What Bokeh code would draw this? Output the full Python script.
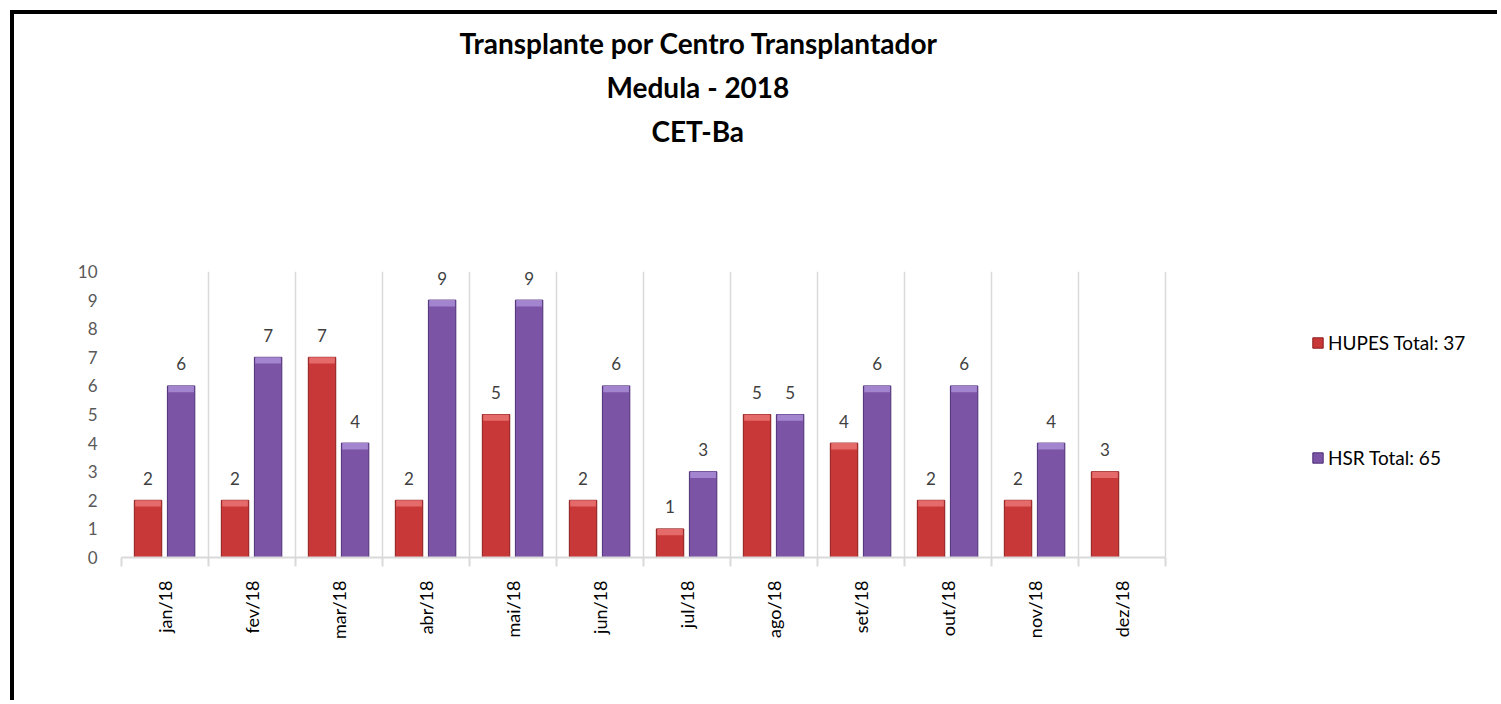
from bokeh.plotting import figure
from bokeh.models import (ColumnDataSource, Range1d, FixedTicker, Legend, LegendItem, Title)
from bokeh.core.properties import value
from bokeh.transform import dodge
from bokeh.embed import file_html
from bokeh.resources import INLINE
import math

months = ["jan/18", "fev/18", "mar/18", "abr/18", "mai/18", "jun/18",
          "jul/18", "ago/18", "set/18", "out/18", "nov/18", "dez/18"]
hupes = [2, 2, 7, 2, 5, 2, 1, 5, 4, 2, 2, 3]
hsr = [6, 7, 4, 9, 9, 6, 3, 5, 6, 6, 4, None]
y_ticks = list(range(0, 11))
title_lines = ["Transplante por Centro Transplantador", "Medula - 2018", "CET-Ba"]

FONT = "Lato"
RED, RED_EDGE, RED_TOP = "#C93838", "#8C1C1C", "#E56A6A"
PUR, PUR_EDGE, PUR_TOP = "#7B54A6", "#4D2E77", "#A384CF"

n = len(months)
centers = [i + 0.5 for i in range(n)]
hsr_top = [float("nan") if v is None else v for v in hsr]

src = ColumnDataSource(dict(
    x=centers, hupes=hupes, hsr=hsr_top,
    hupes_band=[v - 0.22 for v in hupes],
    hsr_band=[v - 0.22 if not math.isnan(v) else float("nan") for v in hsr_top],
    hupes_lbl=[str(v) for v in hupes],
    hsr_lbl=["" if v is None else str(v) for v in hsr],
))

# plot area (frame) runs to the right edge; the categories occupy x in [0, n]
CANVAS_W, LEFT = 1487, 107
CAT_PX = 87.0
x_end = (CANVAS_W - LEFT) / CAT_PX

p = figure(width=CANVAS_W, height=690, output_backend="svg", toolbar_location=None,
           x_range=Range1d(0, x_end), y_range=Range1d(0, 10),
           min_border_left=LEFT, min_border_top=257, min_border_right=0,
           min_border_bottom=147)
p.styles = {"border-top": "4px solid black", "border-left": "4px solid black",
            "margin-top": "10px", "margin-left": "10px"}
p.outline_line_color = None
p.background_fill_color = "white"
p.border_fill_color = "white"

W = 0.315
OFF_R, OFF_P = -0.195, 0.185

r1 = p.vbar(x=dodge("x", OFF_R), top="hupes", bottom=0, width=W, source=src,
            fill_color=RED, line_color=RED_EDGE, line_width=1)
p.vbar(x=dodge("x", OFF_R), top="hupes", bottom="hupes_band", width=W - 0.02, source=src,
       fill_color=RED_TOP, line_color=None)
r2 = p.vbar(x=dodge("x", OFF_P), top="hsr", bottom=0, width=W, source=src,
            fill_color=PUR, line_color=PUR_EDGE, line_width=1)
p.vbar(x=dodge("x", OFF_P), top="hsr", bottom="hsr_band", width=W - 0.02, source=src,
       fill_color=PUR_TOP, line_color=None)

p.text(x=dodge("x", OFF_R), y="hupes", text="hupes_lbl", source=src,
       text_font=value(FONT), text_font_size="17px", text_color="#404040",
       text_align="center", text_baseline="middle", y_offset=-22)
p.text(x=dodge("x", OFF_P), y="hsr", text="hsr_lbl", source=src,
       text_font=value(FONT), text_font_size="17px", text_color="#404040",
       text_align="center", text_baseline="middle", y_offset=-22)

# axes
xa = p.xaxis[0]
xa.bounds = (0, n)
xa.ticker = FixedTicker(ticks=centers, minor_ticks=list(range(n + 1)))
xa.major_label_overrides = {c: m for c, m in zip(centers, months)}
xa.major_label_orientation = math.pi / 2
xa.major_tick_line_color = None
xa.minor_tick_in = 0
xa.minor_tick_out = 9
xa.minor_tick_line_color = "#D9D9D9"
xa.minor_tick_line_width = 2
xa.axis_line_color = "#D9D9D9"
xa.axis_line_width = 2
xa.major_label_standoff = 14
xa.major_label_text_font = FONT
xa.major_label_text_font_size = "18px"
xa.major_label_text_color = "#000000"

ya = p.yaxis[0]
ya.ticker = FixedTicker(ticks=y_ticks)
ya.axis_line_color = None
ya.major_tick_line_color = None
ya.minor_tick_line_color = None
ya.major_label_standoff = 18
ya.major_label_text_font = FONT
ya.major_label_text_font_size = "17px"
ya.major_label_text_color = "#595959"

p.ygrid.grid_line_color = None
p.xgrid.ticker = FixedTicker(ticks=list(range(n + 1)))
p.xgrid.grid_line_color = "#D9D9D9"
p.xgrid.grid_line_width = 1.5

# legend (inside the wide frame, right of the categories)
legend = Legend(items=[
    LegendItem(label=f"HUPES Total: {sum(hupes)}", renderers=[r1]),
    LegendItem(label=f"HSR Total: {sum(v for v in hsr if v is not None)}", renderers=[r2]),
], location=(1190, 88), orientation="vertical")
legend.glyph_width = 13
legend.glyph_height = 13
legend.label_height = 20
legend.spacing = 92
legend.label_standoff = 4
legend.padding = 0
legend.margin = 0
legend.border_line_color = None
legend.background_fill_alpha = 0
legend.label_text_font = FONT
legend.label_text_font_size = "19px"
legend.label_text_color = "#000000"
p.add_layout(legend)

# spacer between the frame and the title block
p.add_layout(Title(text=" ", text_font_size="1px", text_color="white", standoff=117), "above")
# title lines: nearest to the frame first
offsets = [338, 485, 530]
for txt, off in reversed(list(zip(title_lines, offsets))):
    p.add_layout(Title(text=txt, align="left", offset=off, standoff=8,
                       text_font=FONT, text_font_size="28px", text_font_style="bold",
                       text_color="#000000"), "above")

open("out.html", "w").write(file_html(p, INLINE))
